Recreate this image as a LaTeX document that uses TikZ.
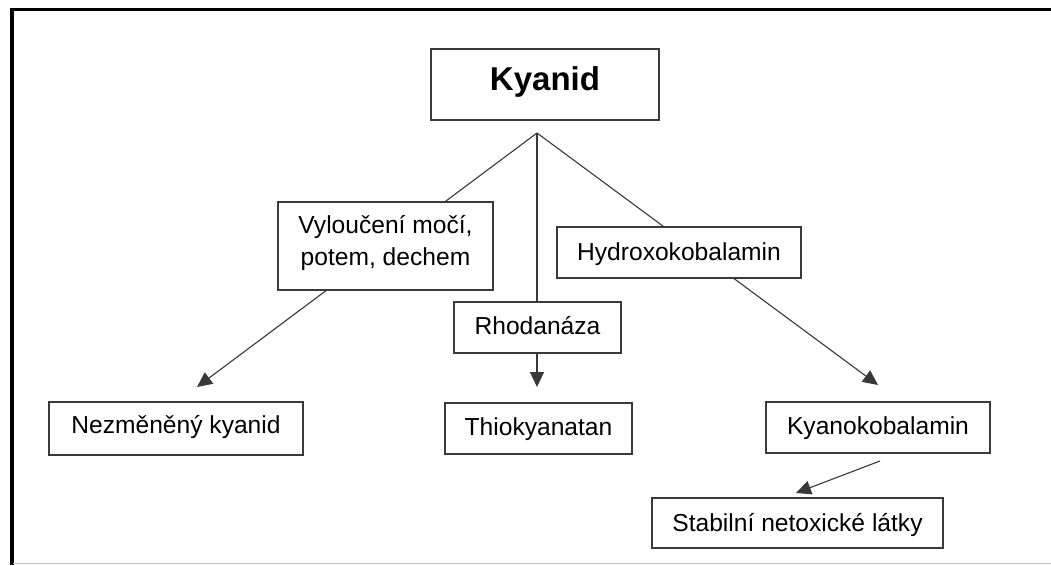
\documentclass[tikz,border=0pt]{standalone}
\usepackage{fontspec}
\setmainfont{Liberation Sans}
\usetikzlibrary{arrows.meta}
\pgfdeclarelayer{bg}
\pgfsetlayers{bg,main}
\definecolor{boxline}{HTML}{3A3A3A}
\definecolor{conn}{HTML}{383838}
\tikzset{
  box/.style={draw=boxline, line width=1.2pt, fill=white, rectangle, inner sep=0pt,
    font=\fontsize{24.6}{31.7}\selectfont, text height=17.6pt, align=center},
  conline/.style={draw=conn, line width=1.1pt},
  arr/.style={conline, -{Triangle[length=15pt,width=14pt]}}
}
\begin{document}
\begin{tikzpicture}[x=1pt,y=-1pt]
\useasboundingbox (0,0) rectangle (1051,565);
% frame
\draw[black, line width=3.5pt] (10,9.5) -- (1051,9.5);
\draw[black, line width=3.5pt] (12,8) -- (12,565);
\draw[black!25, line width=1pt] (13,563.5) -- (1051,563.5);
% boxes
\node[box, minimum width=228pt, minimum height=71pt, text height=23.6pt, text depth=12.6pt,
  font=\fontsize{33}{38}\selectfont\bfseries] (kyanid) at (545,84.5) {Kyanid};
\node[box, minimum width=215pt, minimum height=88pt, text height=49.3pt, text depth=11.3pt]
  (vyl) at (385.5,246) {Vyloučení močí,\\potem, dechem};
\node[box, minimum width=167pt, minimum height=51pt, text depth=4pt] (rhod) at (537.5,327.5) {Rhodanáza};
\node[box, minimum width=187pt, minimum height=51pt, text depth=4.6pt] (thio) at (538.5,428.5) {Thiokyanatan};
\node[box, minimum width=254pt, minimum height=53pt, text depth=8pt] (nezm) at (176,428.5) {Nezměněný kyanid};
\node[box, minimum width=244pt, minimum height=51pt, text depth=2.6pt] (hydro) at (679,252.5) {Hydroxokobalamin};
\node[box, minimum width=224pt, minimum height=51pt, text depth=4.6pt] (kyano) at (878,427.5) {Kyanokobalamin};
\node[box, minimum width=291pt, minimum height=50pt, text depth=0.5pt] (stab) at (797.5,523) {Stabilní netoxické látky};
% connector points
\coordinate (apex) at (537,133);
\coordinate (tipL) at (197,387);
\coordinate (tipR) at (878,385);
\coordinate (tipM) at (537,387);
\coordinate (ks) at (880,461);
\coordinate (tipS) at (796,493);
\begin{pgfonlayer}{bg}
\draw[arr] (apex) -- (tipL);
\draw[arr] (apex) -- (tipR);
\draw[conline] (apex) -- (apex |- rhod.north);
\end{pgfonlayer}
\draw[arr] (rhod.south -| tipM) -- (tipM);
\draw[arr] (ks) -- (tipS);
\end{tikzpicture}
\end{document}
